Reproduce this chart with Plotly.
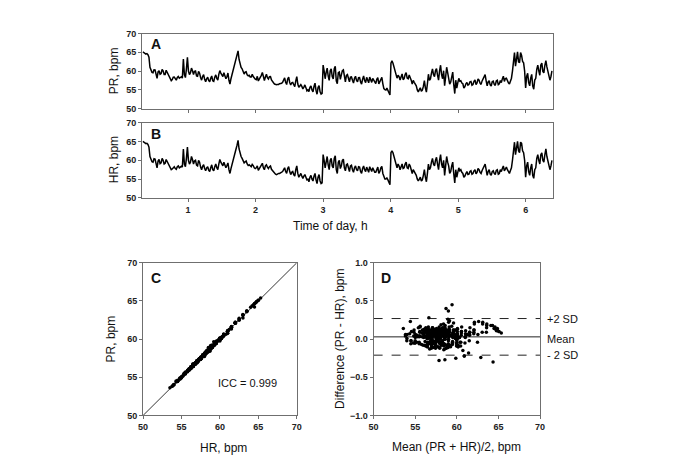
import numpy as np
import plotly.graph_objects as go

# ---------------- data ----------------
T_START = 0.33   # first sample, h
T_STEP = 0.03    # spacing of the main samples, h (a second set sits half-way between them)

HR = [
    # 0.33 - 0.99
    65.0, 64.6, 64.5, 63.5, 60.0, 59.5, 60.3, 58.0, 60.2, 59.3, 60.0, 59.2, 59.6, 58.6, 57.5, 58.2,
    57.8, 58.3, 58.0, 58.4, 63.0, 58.3, 63.5,
    # 1.02 - 1.98
    59.0, 61.0, 59.0, 60.0, 58.5, 59.5, 57.5, 58.8, 57.2, 58.3, 57.0, 58.8, 57.2, 59.0, 57.5, 60.2,
    59.0, 59.5, 58.0, 59.3, 56.5, 59.0, 61.0, 63.0, 65.3, 61.5, 60.5, 59.3, 59.8, 58.6, 58.5, 58.9, 58.0,
    # 2.01 - 2.97
    58.0, 57.3, 58.2, 59.2, 57.5, 58.8, 57.8, 58.5, 57.2, 56.5, 56.2, 56.5, 56.6, 57.0, 58.0, 56.5,
    58.3, 56.2, 57.0, 55.8, 58.5, 55.5, 56.5, 55.2, 56.2, 54.8, 54.3, 56.0, 54.5, 56.5, 53.8, 56.2, 53.8,
    # 3.00 - 3.99
    61.5, 58.0, 61.0, 57.5, 60.5, 58.0, 61.2, 56.5, 60.0, 58.5, 60.3, 57.2, 59.0, 57.0, 58.7, 56.8,
    58.5, 57.2, 58.2, 56.5, 58.5, 57.0, 57.5, 58.3, 57.0, 57.5, 56.8, 58.2, 57.0, 58.4, 55.3, 55.0,
    54.8, 53.5,
    # 4.02 - 4.98
    62.5, 61.0, 58.5, 59.0, 57.5, 59.0, 58.0, 59.5, 57.8, 58.5, 56.5, 57.0, 56.0, 54.5, 55.5, 54.8,
    57.5, 54.3, 59.0, 58.0, 60.5, 58.5, 60.8, 57.5, 61.5, 58.0, 56.0, 61.0, 58.5, 57.0, 59.5, 54.0, 55.5,
    # 5.01 - 5.97
    58.0, 57.5, 56.5, 55.8, 57.0, 56.3, 57.2, 56.5, 57.5, 56.8, 57.5, 56.5, 57.8, 59.0, 56.0, 57.5,
    56.0, 57.2, 56.2, 57.5, 56.5, 57.0, 58.5, 58.0, 57.5, 56.5, 58.0, 63.5, 61.5, 65.0, 62.0, 64.5, 62.0,
    # 6.00 - 6.39
    55.5, 59.5, 56.0, 59.0, 55.2, 58.0, 61.5, 59.0, 62.0, 59.5, 63.0, 60.0, 57.5, 60.0,
]

HR_MID = [  # samples half-way between the HR samples
    64.7, 64.4, 64.2, 61.0, 59.6, 60.4, 59.0, 59.8, 59.1, 60.5, 59.0, 60.2, 59.0, 58.0, 57.7, 58.3,
    57.6, 58.5, 58.2, 58.2, 59.0, 60.5, 60.0,
    59.5, 60.2, 59.8, 58.7, 60.0, 58.2, 58.4, 57.8, 58.0, 57.4, 58.0, 57.5, 58.3, 58.0, 59.0, 59.5,
    58.5, 58.8, 58.6, 57.5, 57.8, 60.0, 62.0, 64.0, 63.0, 61.0, 59.8, 59.6, 59.0, 58.8, 58.3, 58.6, 57.8,
    58.5, 57.8, 58.8, 58.0, 58.5, 58.2, 58.3, 57.6, 57.0, 56.3, 56.4, 56.5, 56.8, 57.5, 57.0, 57.8,
    57.0, 56.8, 56.2, 57.5, 56.5, 56.0, 55.8, 55.8, 55.5, 55.0, 55.5, 55.0, 55.8, 54.8, 55.5, 54.5, 54.0,
    60.0, 59.5, 58.8, 60.0, 58.5, 60.5, 57.5, 59.5, 57.8, 60.0, 58.0, 58.8, 58.0, 58.5, 57.5, 58.0,
    57.5, 58.3, 57.0, 57.8, 57.5, 58.2, 56.8, 57.5, 58.0, 56.8, 57.8, 56.5, 58.0, 56.5, 55.0, 55.3,
    54.0, 62.0,
    62.0, 59.5, 58.0, 58.5, 58.5, 57.8, 59.0, 58.0, 59.0, 57.5, 57.5, 56.5, 55.0, 55.0, 54.5, 56.0,
    55.5, 56.5, 57.5, 59.5, 59.0, 60.0, 59.0, 60.0, 59.0, 60.0, 58.5, 59.5, 56.5, 58.5, 56.5, 57.5, 56.8,
    57.2, 56.8, 55.5, 56.5, 56.2, 57.0, 56.3, 57.2, 56.4, 57.8, 56.8, 57.3, 58.5, 57.5, 57.0, 56.3,
    57.0, 56.5, 57.3, 56.3, 57.5, 57.8, 57.2, 58.2, 56.8, 57.3, 60.0, 64.8, 63.5, 62.5, 64.8, 62.5, 60.0,
    58.5, 57.0, 58.0, 56.0, 57.5, 60.5, 60.0, 61.5, 60.0, 61.5, 61.0, 58.5, 58.5,
]

DIFF = [  # PR - HR, bpm, for the HR samples
    0.10, 0.13, 0.16, 0.20, -0.05, 0.05, 0.02, 0.08, -0.10, 0.04, 0.06, -0.08, 0.12, 0.00, -0.06, 0.15,
    0.03, -0.02, 0.09, 0.10, 0.22, -0.04, 0.18,
    0.05, -0.22, 0.10, 0.02, 0.14, -0.06, 0.08, 0.26, -0.03, 0.07, 0.11, -0.12, 0.04, 0.00, 0.09, -0.08,
    0.13, 0.06, -0.04, 0.17, 0.02, 0.08, 0.07, 0.20, 0.08, -0.02, 0.10, -0.10, 0.03, 0.12, -0.06, 0.22, 0.01,
    -0.28, 0.06, 0.12, 0.45, -0.02, 0.37, 0.08, 0.03, -0.11, 0.05, 0.14, -0.07, 0.10, 0.02, 0.19, -0.09,
    0.06, 0.11, -0.04, 0.08, 0.00, 0.16, -0.10, 0.05, 0.12, -0.05, 0.23, 0.07, -0.02, 0.28, 0.04, -0.08, 0.06,
    0.09, -0.05, -0.22, 0.04, 0.10, -0.12, 0.06, 0.13, -0.25, 0.40, 0.02, -0.06, 0.08, 0.15, -0.27, 0.03,
    0.11, -0.03, 0.07, 0.01, 0.18, -0.09, 0.05, 0.12, -0.01, 0.08, -0.13, 0.04, 0.10, -0.07, 0.03, -0.05,
    0.09, 0.14,
    0.23, 0.02, 0.06, -0.10, 0.11, 0.24, -0.04, 0.07, 0.13, -0.08, 0.05, 0.00, 0.09, -0.06, 0.04, 0.12,
    -0.03, 0.07, 0.16, -0.11, 0.08, 0.02, -0.15, 0.10, 0.06, -0.05, 0.13, 0.03, -0.09, 0.07, 0.21, 0.01, -0.04,
    0.06, -0.08, 0.12, 0.03, -0.02, 0.10, 0.05, -0.10, 0.14, 0.01, 0.08, -0.05, 0.11, 0.04, 0.07, -0.09,
    0.02, 0.12, -0.03, 0.06, 0.09, -0.06, 0.15, 0.00, -0.12, 0.05, 0.10, 0.15, -0.18, 0.10, 0.22, -0.30, 0.20,
    0.03, -0.07, 0.08, 0.11, -0.04, 0.06, 0.09, -0.10, 0.12, 0.02, -0.24, -0.02, 0.07, 0.05,
]

DIFF_MID = [  # PR - HR, bpm, for the half-way samples
    0.11, 0.14, 0.18, 0.03, 0.07, -0.04, 0.10, 0.01, 0.05, -0.09, 0.12, 0.02, 0.08, -0.05, 0.06, 0.10,
    -0.02, 0.04, 0.13, -0.07, 0.09, 0.05, 0.00,
    0.07, -0.10, 0.12, 0.03, -0.06, 0.09, 0.15, 0.01, -0.04, 0.11, 0.06, -0.09, 0.08, 0.02, 0.13, -0.03,
    0.05, 0.10, -0.13, 0.04, 0.16, 0.07, 0.12, 0.18, 0.09, -0.05, 0.03, 0.11, -0.02, 0.08, 0.14, -0.07, 0.05,
    0.10, -0.03, 0.06, 0.12, -0.08, 0.04, 0.20, 0.02, -0.12, 0.09, 0.05, 0.13, -0.06, 0.07, 0.01, 0.11,
    -0.04, 0.08, 0.15, -0.10, 0.06, 0.03, 0.12, -0.07, 0.09, 0.02, 0.17, -0.05, 0.08, 0.04, 0.10, -0.02, 0.06,
    0.05, 0.12, -0.08, 0.07, 0.03, 0.16, -0.11, 0.09, 0.01, 0.13, -0.05, 0.06, 0.10, -0.14, 0.04, 0.08,
    0.02, -0.07, 0.11, 0.05, -0.03, 0.14, 0.07, -0.09, 0.03, 0.12, 0.00, 0.08, -0.06, 0.10, 0.04, 0.15,
    -0.02, 0.09,
    0.07, -0.04, 0.11, 0.02, 0.09, -0.10, 0.05, 0.13, -0.06, 0.08, 0.03, 0.16, -0.02, 0.06, 0.10, -0.08,
    0.04, 0.12, 0.01, -0.05, 0.09, 0.14, -0.11, 0.06, 0.03, 0.10, -0.07, 0.08, 0.02, 0.13, -0.04, 0.07, 0.05,
    0.09, 0.02, -0.06, 0.11, 0.04, 0.15, -0.09, 0.07, 0.01, 0.12, -0.03, 0.08, 0.05, -0.11, 0.10, 0.03,
    0.14, -0.05, 0.06, 0.09, -0.02, 0.11, 0.04, -0.08, 0.07, 0.13, 0.00, 0.12, 0.09, -0.04, 0.14, 0.06, 0.02,
    0.08, -0.06, 0.10, 0.03, 0.12, -0.04, 0.07, 0.15, -0.09, 0.05, 0.11, 0.01, 0.06,
]

MEAN_DIFF = 0.03
UPPER_LOA = 0.27
LOWER_LOA = -0.21
ICC_TEXT = "ICC = 0.999"

TIME_TICKS = [1, 2, 3, 4, 5, 6]
BPM_TICKS = [50, 55, 60, 65, 70]
DIFF_TICKS = [-1.0, -0.5, 0.0, 0.5, 1.0]

# ---------------- derived ----------------
t_main = T_START + T_STEP * np.arange(len(HR))
t_mid = T_START + T_STEP * (np.arange(len(HR_MID)) + 0.5)
t_all = np.concatenate([t_main, t_mid])
order = np.argsort(t_all)
t = t_all[order]
hr = np.concatenate([HR, HR_MID])[order]
diff = np.concatenate([DIFF, DIFF_MID])[order]
pr = hr + diff
mean_pr_hr = (pr + hr) / 2

# ---------------- layout helpers ----------------
# the page body has an 8px default margin, so the figure is drawn 8px in
OFF = 8
W, H = 685 - OFF, 474 - OFF


def px(x, y):
    return (x - OFF) / W, 1 - (y - OFF) / H


def xdom(a, b):
    return [(a - OFF) / W, (b - OFF) / W]


def ydom(top, bottom):
    return [1 - (bottom - OFF) / H, 1 - (top - OFF) / H]


FONT = "Liberation Sans, Arial, sans-serif"
LINE_COL = "#6f6f6f"
tickfont = dict(family=FONT, size=9, color="#222", weight="bold")

common_axis = dict(
    showline=True, linecolor=LINE_COL, linewidth=1, mirror=True,
    ticks="outside", ticklen=3, tickcolor=LINE_COL, showgrid=False,
    zeroline=False, tickfont=tickfont,
)

fig = go.Figure()

# A: PR time series
fig.add_trace(go.Scatter(x=t, y=pr, mode="lines", line=dict(color="black", width=1.5),
                         xaxis="x", yaxis="y", showlegend=False))
# B: HR time series
fig.add_trace(go.Scatter(x=t, y=hr, mode="lines", line=dict(color="black", width=1.5),
                         xaxis="x2", yaxis="y2", showlegend=False))
# C: identity line and scatter
fig.add_trace(go.Scatter(x=[BPM_TICKS[0], BPM_TICKS[-1]], y=[BPM_TICKS[0], BPM_TICKS[-1]],
                         mode="lines", line=dict(color="black", width=0.8),
                         xaxis="x3", yaxis="y3", showlegend=False))
fig.add_trace(go.Scatter(x=hr, y=pr, mode="markers", marker=dict(color="black", size=3.5),
                         xaxis="x3", yaxis="y3", showlegend=False))
# D: Bland-Altman
for val, dash in [(UPPER_LOA, "dash"), (MEAN_DIFF, "solid"), (LOWER_LOA, "dash")]:
    fig.add_trace(go.Scatter(x=[BPM_TICKS[0], BPM_TICKS[-1]], y=[val, val], mode="lines",
                             line=dict(color="#222", width=1, dash=dash),
                             xaxis="x4", yaxis="y4", showlegend=False))
fig.add_trace(go.Scatter(x=mean_pr_hr, y=diff, mode="markers", marker=dict(color="black", size=3.5),
                         xaxis="x4", yaxis="y4", showlegend=False))

t_range = [0.318, 6.404]

fig.update_layout(
    width=W, height=H, margin=dict(l=0, r=0, t=0, b=0),
    paper_bgcolor="white", plot_bgcolor="white",
    font=dict(family=FONT, color="#111"),
    xaxis=dict(common_axis, domain=xdom(139, 556), range=t_range, tickvals=TIME_TICKS,
               showticklabels=False, anchor="y"),
    yaxis=dict(common_axis, domain=ydom(29, 105.7), range=[50, 70], tickvals=BPM_TICKS, anchor="x"),
    xaxis2=dict(common_axis, domain=xdom(139, 556), range=t_range, tickvals=TIME_TICKS, anchor="y2"),
    yaxis2=dict(common_axis, domain=ydom(120, 197), range=[50, 70], tickvals=BPM_TICKS, anchor="x2"),
    xaxis3=dict(common_axis, domain=xdom(140, 296), range=[50, 70], tickvals=BPM_TICKS, anchor="y3"),
    yaxis3=dict(common_axis, domain=ydom(263.3, 419.3), range=[50, 70], tickvals=BPM_TICKS, anchor="x3"),
    xaxis4=dict(common_axis, domain=xdom(374, 543), range=[50, 70], tickvals=BPM_TICKS, anchor="y4"),
    yaxis4=dict(common_axis, domain=ydom(263.3, 419.3), range=[-1, 1], tickvals=DIFF_TICKS,
                tickformat=".1f", anchor="x4"),
)

ann = []


def text(x, y, s, size=12, bold=False, angle=0, xanchor="center"):
    xx, yy = px(x, y)
    ann.append(dict(x=xx, y=yy, xref="paper", yref="paper", text=s, showarrow=False,
                    textangle=angle, xanchor=xanchor, yanchor="middle",
                    font=dict(family=FONT, size=size, color="#111",
                              weight="bold" if bold else "normal")))


# panel letters
text(153, 40, "A", 14, True)
text(153, 132, "B", 14, True)
text(153, 279, "C", 14, True)
text(387, 279, "D", 14, True)
# axis titles
text(110, 67, "PR, bpm", angle=-90)
text(110, 158, "HR, bpm", angle=-90)
text(330, 226, "Time of day, h")
text(107, 341, "PR, bpm", angle=-90)
text(222, 453, "HR, bpm")
text(340, 341, "Difference (PR - HR), bpm", angle=-90)
text(458, 452, "Mean (PR + HR)/2, bpm")
# inside texts
text(246, 386, ICC_TEXT, 11)
text(548, 321, "+2 SD", 11, xanchor="left")
text(548, 341, "Mean", 11, xanchor="left")
text(548, 357, "- 2 SD", 11, xanchor="left")

fig.update_layout(annotations=ann)

fig.write_html("out.html")
